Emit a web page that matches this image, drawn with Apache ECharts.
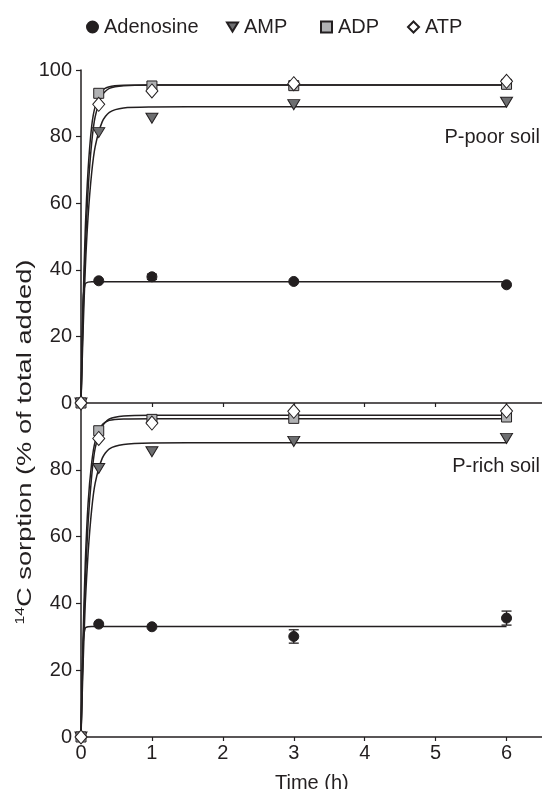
<!DOCTYPE html>
<html>
<head>
<meta charset="utf-8">
<script src="https://cdn.jsdelivr.net/npm/echarts@6/dist/echarts.min.js"></script>
<style>html,body{margin:0;padding:0;background:#fff}#c{width:542px;height:789px}</style>
</head>
<body>
<div id="c"></div>
<script>
// ---- data ----
var timePts = [0, 0.25, 1, 3, 6];
var poorAdenosine = [0, 36.7, 37.9, 36.5, 35.5];
var poorAMP = [0, 81.2, 85.5, 89.6, 90.3];
var poorADP = [0, 93.0, 95.2, 95.3, 95.7];
var poorATP = [0, 89.7, 93.7, 95.9, 96.6];
var richAdenosine = [0, 33.8, 33.0, 30.1, 35.6];
var richAMP = [0, 80.4, 85.4, 88.5, 89.4];
var richADP = [0, 91.7, 95.1, 95.4, 95.8];
var richATP = [0, 89.4, 94.0, 97.5, 97.6];
var richAdenosineErr = [0, 0, 0, 2.0, 2.1];
var poorAdenosineErr = [0, 0, 0.8, 0, 0];

var fitTime = [0, 0.03, 0.06, 0.1, 0.15, 0.2, 0.3, 0.4, 0.6, 1, 2, 6];
var poorFitAdenosine = [0, 31, 35.8, 36.3, 36.4, 36.4, 36.4, 36.4, 36.4, 36.4, 36.4, 36.4];
var poorFitAMP = [0, 22, 40, 56, 69, 77, 84.5, 87.3, 88.6, 88.9, 89, 89];
var poorFitADP = [0, 30, 52, 70, 83, 89, 93.8, 95, 95.4, 95.5, 95.5, 95.5];
var poorFitATP = [0, 27, 46, 64, 78, 86, 92.5, 94.5, 95.3, 95.5, 95.5, 95.5];
var richFitAdenosine = [0, 28, 32.6, 33, 33.1, 33.1, 33.1, 33.1, 33.1, 33.1, 33.1, 33.1];
var richFitAMP = [0, 22, 40, 55, 68, 76, 83.5, 86.3, 87.6, 88, 88.1, 88.1];
var richFitADP = [0, 30, 52, 70, 82, 88.5, 93.5, 94.8, 95.2, 95.3, 95.3, 95.3];
var richFitATP = [0, 27, 46, 64, 78, 86.5, 93, 95.2, 96.1, 96.3, 96.3, 96.3];

var xTicks = [0, 1, 2, 3, 4, 5, 6];
var yTicksTop = [0, 20, 40, 60, 80, 100];
var yTicksBottom = [0, 20, 40, 60, 80];
var seriesNames = ['Adenosine', 'AMP', 'ADP', 'ATP'];

// ---- styles ----
var INK = '#231f20';
var FONT = 'Liberation Sans, Arial, sans-serif';
var triDown = 'path://M0,0 L12,0 L6,10 Z';
var marker = {
  'Adenosine': {symbol: 'circle', size: 10, color: INK},
  'AMP': {symbol: triDown, size: [12, 10], color: '#6d6e70'},
  'ADP': {symbol: 'rect', size: 10, color: '#b0b1b3'},
  'ATP': {symbol: 'diamond', size: [12, 14], color: '#ffffff'}
};

function zip(xs, ys) { return xs.map(function (x, i) { return [x, ys[i]]; }); }

var poorPts = [poorAdenosine, poorAMP, poorADP, poorATP];
var richPts = [richAdenosine, richAMP, richADP, richATP];
var poorFits = [poorFitAdenosine, poorFitAMP, poorFitADP, poorFitATP];
var richFits = [richFitAdenosine, richFitAMP, richFitADP, richFitATP];

var series = [];
[[poorFits, 0], [richFits, 1]].forEach(function (p) {
  p[0].forEach(function (f, i) {
    series.push({
      type: 'line', name: 'fit' + i + '_' + p[1], xAxisIndex: p[1], yAxisIndex: p[1],
      data: zip(fitTime, f), showSymbol: false, smooth: 0.25, silent: true,
      lineStyle: {color: INK, width: 1.5}, z: 2
    });
  });
});
function errSeries(vals, errs, idx) {
  var d = [];
  timePts.forEach(function (t, i) { if (errs[i] > 0) d.push([t, vals[i], errs[i]]); });
  return {
    type: 'custom', xAxisIndex: idx, yAxisIndex: idx, data: d, z: 3, silent: true,
    renderItem: function (params, api) {
      var x = api.value(0), y = api.value(1), e = api.value(2);
      var lo = api.coord([x, y - e]), hi = api.coord([x, y + e]);
      var w = 5;
      var st = {stroke: INK, lineWidth: 1.3};
      return {type: 'group', children: [
        {type: 'line', shape: {x1: lo[0], y1: lo[1], x2: hi[0], y2: hi[1]}, style: st},
        {type: 'line', shape: {x1: lo[0] - w, y1: lo[1], x2: lo[0] + w, y2: lo[1]}, style: st},
        {type: 'line', shape: {x1: hi[0] - w, y1: hi[1], x2: hi[0] + w, y2: hi[1]}, style: st}
      ]};
    }
  };
}
series.push(errSeries(poorAdenosine, poorAdenosineErr, 0));
series.push(errSeries(richAdenosine, richAdenosineErr, 1));
[[poorPts, 0], [richPts, 1]].forEach(function (p) {
  p[0].forEach(function (v, i) {
    var n = seriesNames[i], m = marker[n];
    series.push({
      type: 'scatter', name: n, xAxisIndex: p[1], yAxisIndex: p[1],
      data: zip(timePts, v), symbol: m.symbol, symbolSize: m.size,
      itemStyle: {color: m.color, borderColor: INK, borderWidth: 1, opacity: 1}, z: 5 + i
    });
  });
});

var legendLeft = [81, 221, 315, 402];
var legends = seriesNames.map(function (n, i) {
  return {
    data: [n], left: legendLeft[i], top: 12, itemWidth: 11, itemHeight: 11, itemGap: 0,
    selectedMode: false,
    textStyle: {fontFamily: FONT, fontSize: 20, color: INK, padding: [0, 0, 0, 1]}
  };
});

function xAxis(idx, labels) {
  return {
    type: 'value', gridIndex: idx, min: 0, max: 6.5,
    axisLine: {show: true, onZero: false, lineStyle: {color: INK, width: 1.5}},
    axisTick: {show: true, inside: false, length: 4, customValues: xTicks, lineStyle: {color: INK, width: 1.2}},
    axisLabel: {show: labels, customValues: xTicks, fontFamily: FONT, fontSize: 20, color: INK, margin: 6},
    splitLine: {show: false}
  };
}
function yAxis(idx, ticks) {
  return {
    type: 'value', gridIndex: idx, min: 0, max: 100,
    axisLine: {show: true, onZero: false, lineStyle: {color: INK, width: 1.5}},
    axisTick: {show: true, inside: false, length: 5, customValues: ticks, lineStyle: {color: INK, width: 1.2}},
    axisLabel: {customValues: ticks, fontFamily: FONT, fontSize: 20, color: INK, margin: 9},
    splitLine: {show: false}
  };
}

var option = {
  animation: false,
  backgroundColor: '#fff',
  legend: legends,
  grid: [
    {left: 81, right: 0, top: 70, height: 333},
    {left: 81, right: 0, top: 403, height: 334}
  ],
  xAxis: [xAxis(0, false), xAxis(1, true)],
  yAxis: [yAxis(0, yTicksTop), yAxis(1, yTicksBottom)],
  series: series,
  graphic: [
    {type: 'text', right: 2, top: 127, style: {text: 'P-poor soil', fontFamily: FONT, fontSize: 20, fill: INK}},
    {type: 'text', right: 2, top: 456, style: {text: 'P-rich soil', fontFamily: FONT, fontSize: 20, fill: INK}},
    {type: 'text', left: 275, top: 773, style: {text: 'Time (h)', fontFamily: FONT, fontSize: 20, fill: INK}},
    {type: 'text', x: 25, y: 442, rotation: Math.PI / 2, scaleX: 1.3,
      style: {
        text: '{s|14}{n|C sorption (% of total added)}',
        align: 'center', verticalAlign: 'middle',
        rich: {
          s: {fontFamily: FONT, fontSize: 12, fill: INK, verticalAlign: 'top', padding: [0, 0, 8, 0]},
          n: {fontFamily: FONT, fontSize: 21, fill: INK}
        }
      }}
  ]
};
var chart = echarts.init(document.getElementById('c'));
chart.setOption(option);
</script>
</body>
</html>
